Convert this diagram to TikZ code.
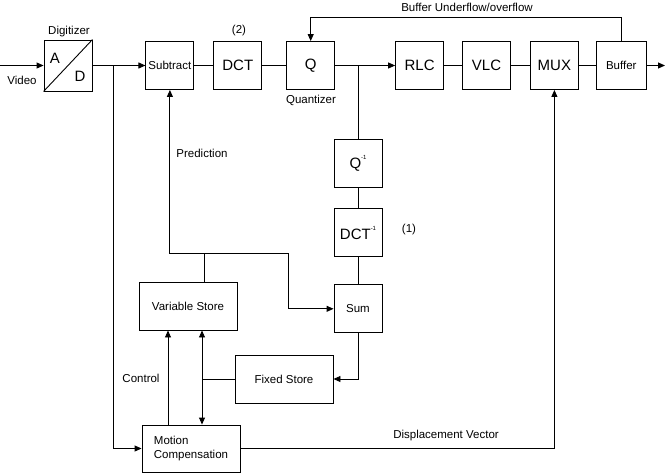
\documentclass[tikz,border=0pt]{standalone}
\usepackage{fontspec}
\setmainfont{Liberation Sans}
\usetikzlibrary{arrows.meta,positioning,calc}
\newcommand{\invsup}[1]{\raisebox{1.1ex}{\fontsize{6}{6}\selectfont #1}}

\begin{document}
\begin{tikzpicture}[
            x=1pt, y=-1pt, line width=0.9pt,
            every node/.style={font=\fontsize{11.5}{13.5}\selectfont},
            block/.style={draw, minimum width=48pt, minimum height=48pt, inner sep=1pt},
            store/.style={block, minimum width=98pt},
            big/.style={font=\fontsize{15}{18}\selectfont},
            to/.style={->,>={Triangle[length=7pt,width=6pt]}},
            tofro/.style={<->,>={Triangle[length=7pt,width=6pt]}},
            node distance = 19pt
  ]
  \useasboundingbox (0,0) rectangle (671,474);

  \coordinate (vin) at (0,65.5);
  \node[block, minimum height=51pt] (ad) at (68,65.5) {};
  \node[block] (sub) [right=53pt of ad] {Subtract};
  \node[block, big] (dct) [right=of sub] {DCT};
  \node[block, big] (q) [right=24pt of dct] {Q};
  \node[block, big] (rlc) [right=60pt of q] {RLC};
  \node[block, big] (vlc) [right=18pt of rlc] {VLC};
  \node[block, big] (mux) [right=of vlc] {MUX};
  \node[block, minimum width=50pt] (buf) [right=17pt of mux] {Buffer};
  \coordinate (vout) at (665,65.5);

  \node[block, big] (qinv) at (358,163) {Q\invsup{-1}};
  \node[block, big] (dctinv) [below=21pt of qinv] {DCT\invsup{-1}};
  \node[block] (sum) [below=27pt of dctinv] {Sum};

  \node[store] (vs) at (188,306) {Variable Store};
  \node[store] (fs) at (284,379) {Fixed Store};
  \node[store, minimum height=47pt, align=left] (mc) at (191,448.5) {Motion\\Compensation};

  % A/D digitizer
  \draw (ad.south west) -- (ad.north east);
  \node[big] (adA) at ([shift={(-13,-7)}]ad.center) {A};
  \node[big] (adD) at ([shift={(12,11)}]ad.center) {D};

  % labels
  \node (lvideo) at (22,80) {Video};
  \node (ldigit) at (69,32) {Digitizer};
  \node (ltwo) at (239,31) {(2)};
  \node (lquant) at (311,100) {Quantizer};
  \node (lbuf) at (467,7) {Buffer Underflow/overflow};
  \node (lpred) at (202,153) {Prediction};
  \node (lone) at (409,230) {(1)};
  \node (lctrl) at (141,378) {Control};
  \node (ldisp) at (446,436) {Displacement Vector};

  \coordinate (jin) at ($(ad.east)!0.4!(sub.west)$);
  \coordinate (jq) at (qinv |- q);
  \coordinate (fbtop) at ([yshift=23.5pt]q.north);
  \coordinate (jvs) at ([xshift=16pt]vs.north);
  \coordinate (jp) at ([yshift=28pt]jvs);
  \coordinate (jsum) at ([xshift=84pt]jp);
  \coordinate (ctl) at ([xshift=-23pt]mc.north);
  \coordinate (dbl) at ([xshift=11pt]mc.north);

  % forward path
  \draw[to] (vin) -- (ad);
  \draw[to] (ad) -- (sub);
  \draw (sub) -- (dct);
  \draw (dct) -- (q);
  \draw[to] (q) -- (rlc);
  \draw (rlc) -- (vlc);
  \draw (vlc) -- (mux);
  \draw (mux) -- (buf);
  \draw[to] (buf) -- (vout);
  \draw[to] (buf.north) |- (fbtop) -- (q.north);

  % local decoder
  \draw (jq) -- (qinv);
  \draw (qinv) -- (dctinv);
  \draw (dctinv) -- (sum);
  \draw[to] (sum.south) |- (fs.east);

  % prediction
  \draw (jvs) -- (jp);
  \draw[to] (jp) -| (sub.south);
  \draw[to] (jp) -- (jsum) |- (sum.west);

  % motion compensation
  \draw[to] (jin) |- (mc.west);
  \draw[to] (ctl) -- (ctl |- vs.south);
  \draw[tofro] (dbl) -- (dbl |- vs.south);
  \draw (fs.west) -- (fs.west -| dbl);
  \draw[to] (mc.east) -| (mux.south);

\end{tikzpicture}
\end{document}
